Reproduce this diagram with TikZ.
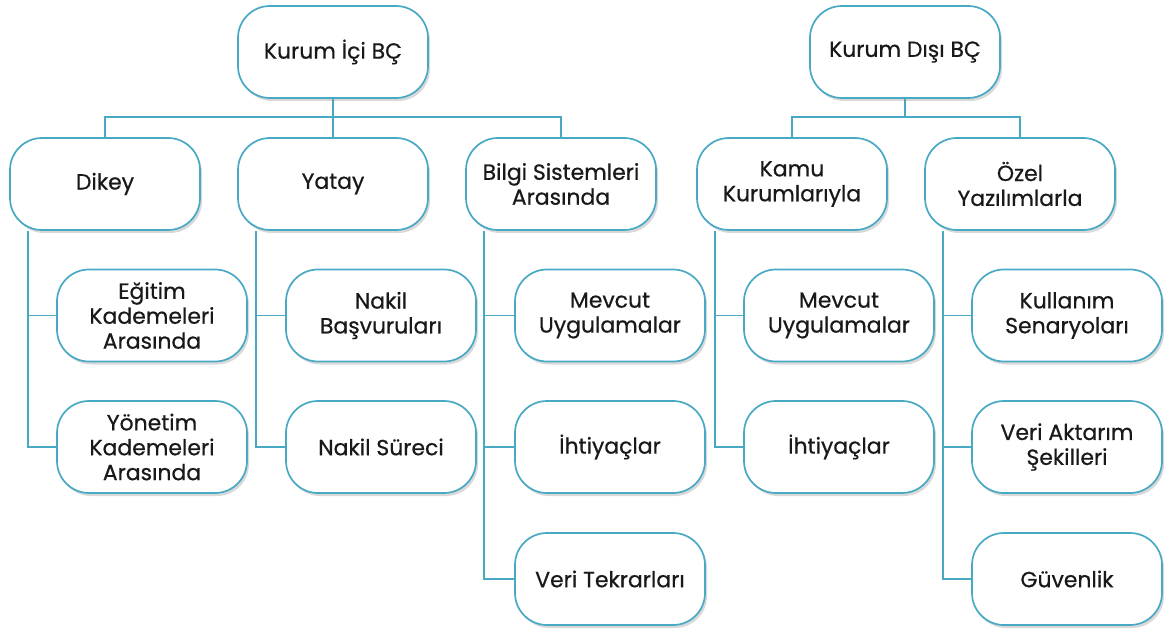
\documentclass[tikz,border=0pt]{standalone}
\usepackage{fontspec}
\setmainfont{Poppins}[FakeBold=0.6]
\usetikzlibrary{shadows,backgrounds}
\definecolor{teal}{HTML}{48A9C4}
\tikzset{
  box/.style={rectangle, rounded corners=32bp, draw=teal, line width=1.7bp, fill=white,
    minimum width=190bp, minimum height=92bp, inner sep=2bp, align=center,
    font=\fontsize{22}{25}\selectfont, text=black!90,
    drop shadow={opacity=0.3, shadow xshift=2bp, shadow yshift=-3bp}},
  conn/.style={draw=teal, line width=1.6bp}
}
\begin{document}
\begin{tikzpicture}[x=1bp,y=-1bp]
\useasboundingbox (0,0) rectangle (1167,630);
% top level
\node[box] (top1) at (333,52) {Kurum İçi BÇ};
\node[box] (top2) at (905,52) {Kurum Dışı BÇ};
% level 2
\node[box] (dik) at (105,184) {Dikey};
\node[box] (yat) at (333,184) {Yatay};
\node[box] (bil) at (561,184) {Bilgi Sistemleri\\Arasında};
\node[box] (kam) at (792,184) {Kamu\\Kurumlarıyla};
\node[box] (oze) at (1020,184) {Özel\\Yazılımlarla};
% level 3
\node[box] (d1) at (152,315.5) {Eğitim\\Kademeleri\\Arasında};
\node[box] (d2) at (152,447) {Yönetim\\Kademeleri\\Arasında};
\node[box] (y1) at (381,315.5) {Nakil\\Başvuruları};
\node[box] (y2) at (381,447) {Nakil Süreci};
\node[box] (b1) at (610,315.5) {Mevcut\\Uygulamalar};
\node[box] (b2) at (610,447) {İhtiyaçlar};
\node[box] (b3) at (610,579) {Veri Tekrarları};
\node[box] (k1) at (839,315.5) {Mevcut\\Uygulamalar};
\node[box] (k2) at (839,447) {İhtiyaçlar};
\node[box] (o1) at (1067,315.5) {Kullanım\\Senaryoları};
\node[box] (o2) at (1067,447) {Veri Aktarım\\Şekilleri};
\node[box] (o3) at (1067,579) {Güvenlik};
\coordinate (bus1) at (333,117);
\coordinate (bus2) at (905,117);
\begin{scope}[on background layer]
\draw[conn] (top1.south) -- (bus1);
\draw[conn] (dik.north) -- (dik.north |- bus1) -- (bil.north |- bus1) -- (bil.north);
\draw[conn] (yat.north) -- (yat.north |- bus1);
\draw[conn] (top2.south) -- (bus2);
\draw[conn] (kam.north) -- (kam.north |- bus2) -- (oze.north |- bus2) -- (oze.north);
\draw[conn] ([xshift=19bp]dik.south west) |- (d1.west);
\draw[conn] ([xshift=19bp]dik.south west) |- (d2.west);
\draw[conn] ([xshift=19bp]yat.south west) |- (y1.west);
\draw[conn] ([xshift=19bp]yat.south west) |- (y2.west);
\draw[conn] ([xshift=19bp]bil.south west) |- (b1.west);
\draw[conn] ([xshift=19bp]bil.south west) |- (b2.west);
\draw[conn] ([xshift=19bp]bil.south west) |- (b3.west);
\draw[conn] ([xshift=19bp]kam.south west) |- (k1.west);
\draw[conn] ([xshift=19bp]kam.south west) |- (k2.west);
\draw[conn] ([xshift=19bp]oze.south west) |- (o1.west);
\draw[conn] ([xshift=19bp]oze.south west) |- (o2.west);
\draw[conn] ([xshift=19bp]oze.south west) |- (o3.west);
\end{scope}
\end{tikzpicture}
\end{document}
